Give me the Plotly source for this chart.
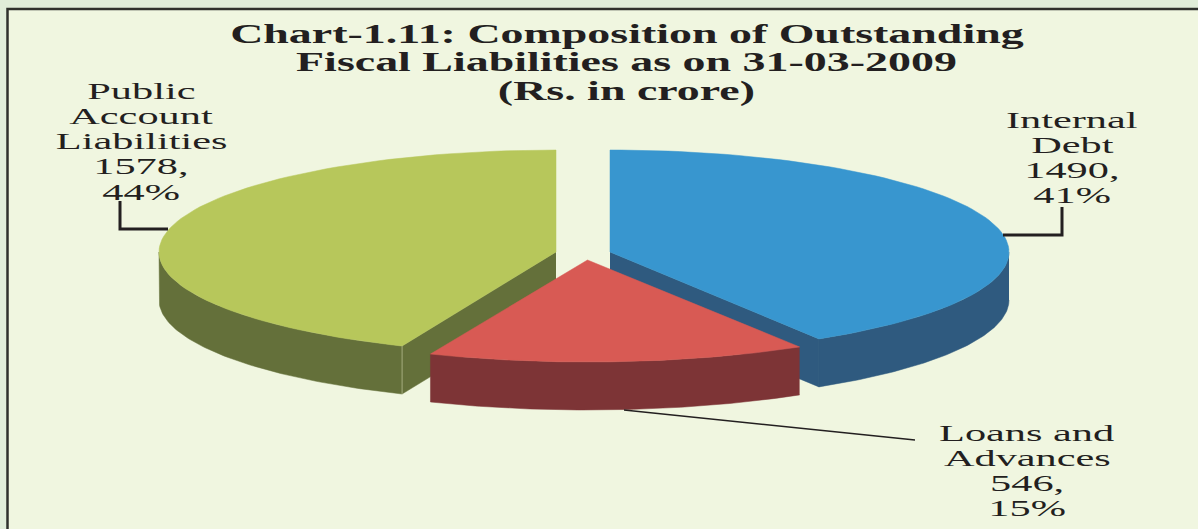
import numpy as np
import plotly.graph_objects as go

# ---- data ----
categories = ["Internal Debt", "Loans and Advances", "Public Account Liabilities"]
values = [1490, 546, 1578]
label_lines = [["Internal", "Debt"], ["Loans and", "Advances"], ["Public", "Account", "Liabilities"]]
title_lines = ["Chart-1.11: Composition of Outstanding",
               "Fiscal Liabilities as on 31-03-2009",
               "(Rs. in crore)"]

# ---- style ----
top_colors = ["#3896cf", "#d85a54", "#b7c75b"]
side_colors = ["#2f5a7f", "#7d3436", "#64703a"]
centers = [(610, 252), (587.5, 260), (556, 252)]
radii_x = [399, 405, 397]
RY, DEPTH = 102, 48
INK = "#231f20"
OUTER = "#e0edd9"
INNER = "#f0f6e0"
label_pos = [(1072, 120), (1027, 433), (141, 91)]
label_step = 25.3
title_pos = (626.5, 33)
title_step = 28.7
draw_order = [0, 2, 1]

total = sum(values)
shares = [v / total for v in values]
edges = np.concatenate([[0], np.cumsum(shares)]) * 2 * np.pi


def rim(i, a0, a1, n=90):
    t = np.linspace(a0, a1, n)
    cx, cy = centers[i]
    return cx + radii_x[i] * np.sin(t), cy - RY * np.cos(t)


def poly(x, y, color, name):
    return go.Scatter(x=list(x), y=list(y), mode="lines", fill="toself", fillcolor=color,
                      line=dict(width=0.5, color=color), name=name, hoverinfo="name", showlegend=False)


fig = go.Figure()
for i in draw_order:
    a0, a1 = edges[i], edges[i + 1]
    cx, cy = centers[i]
    # exposed cut face (towards the viewer)
    for ang in (a0, a1):
        if (ang == a1 and i == 0) or (ang == a0 and i == 2):
            px, py = rim(i, ang, ang, 1)
            fig.add_trace(poly([cx, px[0], px[0], cx], [cy, py[0], py[0] + DEPTH, cy + DEPTH],
                               side_colors[i], categories[i]))
    # outer wall
    lo, hi = max(a0, np.pi / 2), min(a1, 3 * np.pi / 2)
    wx, wy = rim(i, lo, hi)
    fig.add_trace(poly(np.r_[wx, wx[::-1]], np.r_[wy, wy[::-1] + DEPTH], side_colors[i], categories[i]))
    # top face
    tx, ty = rim(i, a0, a1)
    fig.add_trace(poly(np.r_[cx, tx, cx], np.r_[cy, ty, cy], top_colors[i], categories[i]))

# seam on the green slice between wall and cut face
sx, sy = rim(2, edges[2], edges[2], 1)
fig.add_trace(go.Scatter(x=[sx[0], sx[0]], y=[sy[0], sy[0] + DEPTH], mode="lines",
                         line=dict(width=1, color="#a3ab7d"), hoverinfo="skip", showlegend=False))

# leader lines
leaders = [
    ([120, 120, 168], [201, 229, 229], 3),
    ([1003, 1062, 1062], [235, 235, 207], 3),
    ([624, 915], [410, 440], 1.5),
]
for lx, ly, w in leaders:
    fig.add_trace(go.Scatter(x=lx, y=ly, mode="lines", line=dict(color=INK, width=w), hoverinfo="skip", showlegend=False))

annotations = []
for k, line in enumerate(title_lines):
    annotations.append(dict(x=title_pos[0], y=title_pos[1] + k * title_step, text=f"<b>{line}</b>", showarrow=False,
                            xanchor="center", yanchor="middle",
                            font=dict(family="Liberation Serif", size=28, color=INK)))
for i in range(3):
    lines = label_lines[i] + [f"{values[i]},", f"{round(shares[i] * 100)}%"]
    x0, y0 = label_pos[i]
    for k, line in enumerate(lines):
        annotations.append(dict(x=x0, y=y0 + k * label_step, text=line, showarrow=False,
                                xanchor="center", yanchor="middle",
                                font=dict(family="Liberation Serif", size=23, color=INK)))

fig.update_layout(
    width=1198, height=529, margin=dict(l=0, r=0, t=0, b=0),
    paper_bgcolor=OUTER, plot_bgcolor=OUTER, showlegend=False,
    xaxis=dict(range=[0, 1198], visible=False, fixedrange=True),
    yaxis=dict(range=[529, 0], visible=False, fixedrange=True),
    annotations=annotations,
    shapes=[dict(type="rect", x0=7.5, y0=9, x1=1300, y1=700, layer="below",
                 fillcolor=INNER, line=dict(color="#2e302c", width=2.5))],
)

# flush page; the reference type is set very wide: stretch every text line horizontally
post = """
document.body.style.margin='0';
document.body.style.overflow='hidden';
document.querySelectorAll('.annotation-text').forEach(function(t){
  var big = parseFloat(t.style.fontSize) > 26;
  var w = t.getComputedTextLength();
  t.setAttribute('lengthAdjust','spacingAndGlyphs');
  t.setAttribute('textLength', (w * (big ? 1.64 : 1.84)).toFixed(1));
});
"""
fig.write_html("out.html", post_script=post, config=dict(displayModeBar=False))
